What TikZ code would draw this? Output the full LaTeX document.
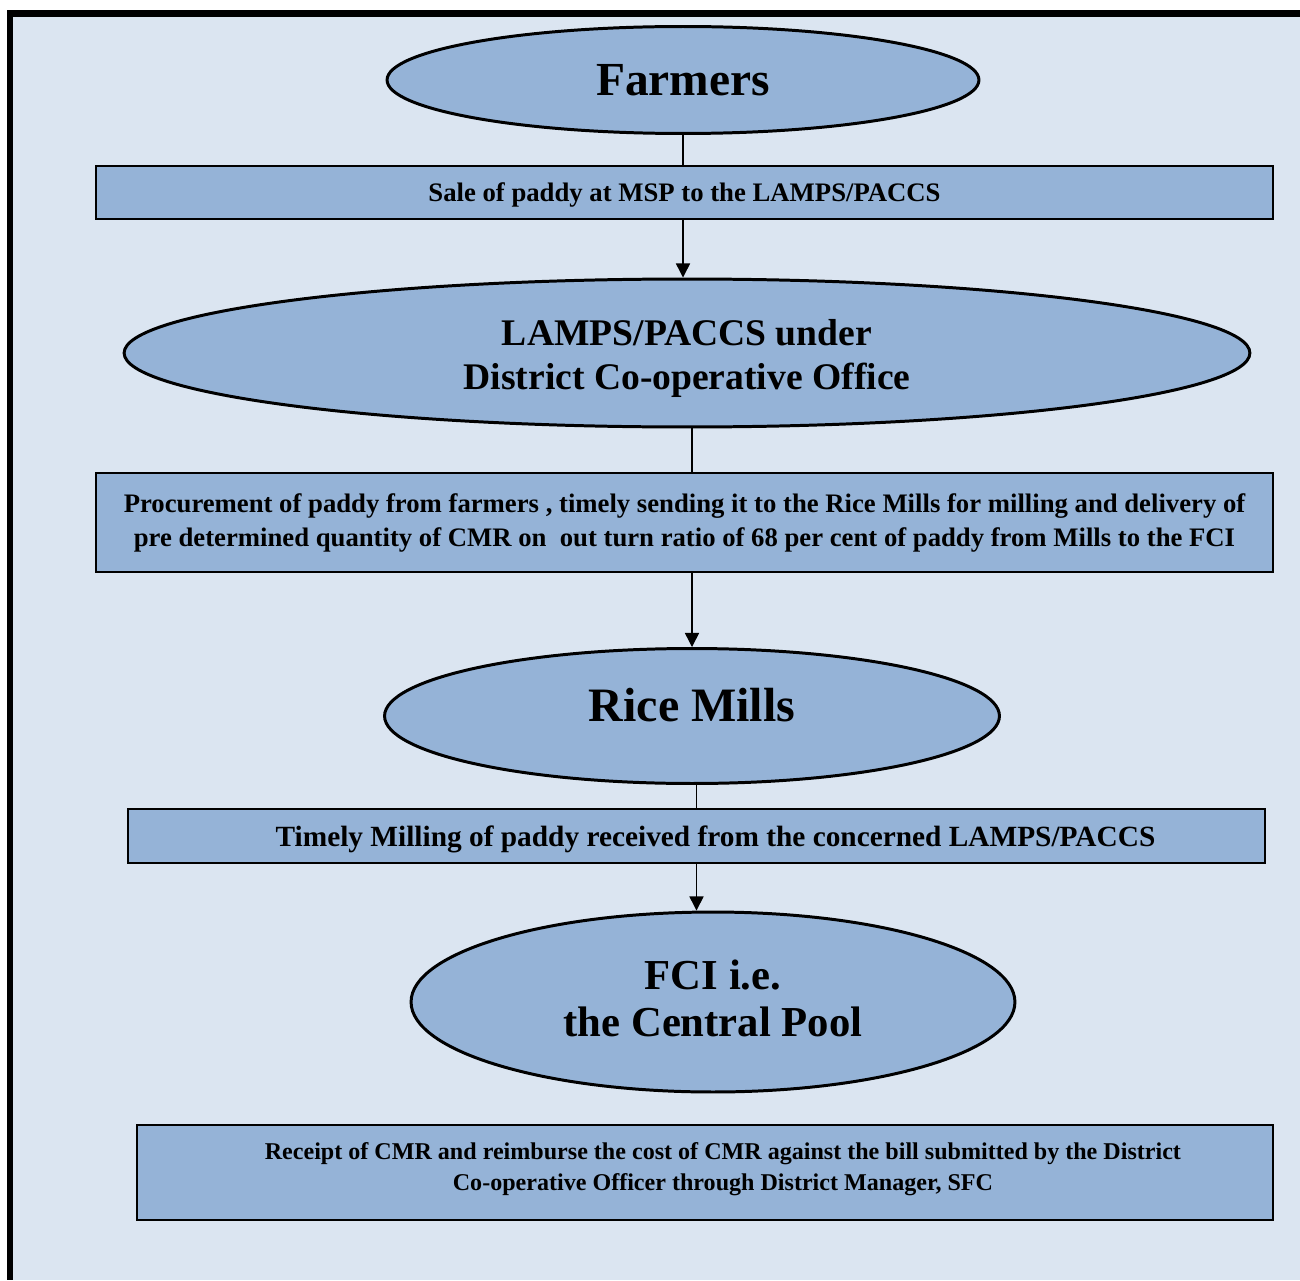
\documentclass[tikz,border=0pt]{standalone}
\usepackage{fontspec}
\setmainfont{Liberation Serif}
\usetikzlibrary{shapes.geometric,arrows.meta}
\definecolor{pagefill}{RGB}{219,229,241}
\definecolor{boxfill}{RGB}{149,179,215}
\tikzstyle{oval} = [ellipse, draw, line width=1.7pt, fill=boxfill, inner sep=0pt]
\tikzstyle{stepbox} = [rectangle, draw, line width=1.1pt, fill=boxfill, inner sep=0pt]
\tikzstyle{link} = [line width=0.8pt]
\tikzstyle{flow} = [line width=0.8pt, -{Triangle[length=8pt,width=8pt]}]
% text moved inside its shape: #1 = twice the shift right, #2 = shift up
\newcommand{\textat}[3]{\hspace*{#1}\raisebox{#2}[\height][\depth]{\begin{tabular}{@{}c@{}}#3\end{tabular}}}

\begin{document}
\begin{tikzpicture}[x=0.02cm, y=-0.02cm]
    \useasboundingbox (0,0) rectangle (1300,1280);
    % page and frame
    \fill[pagefill] (13,17) rectangle (1300,1280);
    \fill[black] (7,10) rectangle (1300,17);
    \fill[black] (7,10) rectangle (13,1280);

    \node[oval, minimum width=11.84cm, minimum height=2.14cm,
        font=\fontsize{27}{30}\selectfont\bfseries] (farmers) at (683,80) {Farmers};
    \node[stepbox, minimum width=23.54cm, minimum height=1.06cm,
        font=\fontsize{15.2}{18}\selectfont\bfseries] (sale) at (684.5,192.5)
        {\textat{0pt}{-1.7pt}{Sale of paddy at MSP to the LAMPS/PACCS}};
    \node[oval, minimum width=22.52cm, minimum height=2.96cm,
        font=\fontsize{21.4}{25}\selectfont\bfseries] (lamps) at (687,353)
        {\textat{0pt}{-3.4pt}{LAMPS/PACCS under\\District Co-operative Office}};
    \node[stepbox, minimum width=23.54cm, minimum height=1.98cm,
        font=\fontsize{15.2}{19.3}\selectfont\bfseries] (procure) at (684.5,522.5)
        {\textat{0pt}{0pt}{Procurement of paddy from farmers , timely sending it to the Rice Mills for milling and delivery of\\
         pre determined quantity of CMR on\ \ out turn ratio of 68 per cent of paddy from Mills to the FCI}};
    \node[oval, minimum width=12.3cm, minimum height=2.7cm,
        font=\fontsize{27.3}{30}\selectfont\bfseries] (mills) at (692,716)
        {\textat{0pt}{2.8pt}{Rice Mills}};
    \node[stepbox, minimum width=22.74cm, minimum height=1.08cm,
        font=\fontsize{16.7}{19}\selectfont\bfseries] (milling) at (696.5,836)
        {\textat{21.6pt}{-2.3pt}{Timely Milling of paddy received from the concerned LAMPS/PACCS}};
    \node[oval, minimum width=12.08cm, minimum height=3.6cm,
        font=\fontsize{24.3}{26.6}\selectfont\bfseries] (fci) at (713,1002)
        {\textat{0pt}{-0.8pt}{FCI i.e.\\the Central Pool}};
    \node[stepbox, minimum width=22.72cm, minimum height=1.9cm,
        font=\fontsize{13.7}{17.6}\selectfont\bfseries] (receipt) at (705,1172.5)
        {\textat{20.4pt}{2.3pt}{Receipt of CMR and reimburse the cost of CMR against the bill submitted by the District\\
         Co-operative Officer through District Manager, SFC}};

    % connectors
    \draw[link] (farmers.south) -- (farmers.south |- sale.north);
    \draw[flow] (farmers.south |- sale.south) -- (farmers.south |- lamps.north);
    \draw[link] (mills.north |- lamps.south) -- (mills.north |- procure.north);
    \draw[flow] (mills.north |- procure.south) -- (mills.north);
    \draw[link] (milling.north |- mills.south) -- (milling.north);
    \draw[flow] (milling.south) -- (milling.south |- fci.north);
\end{tikzpicture}
\end{document}
